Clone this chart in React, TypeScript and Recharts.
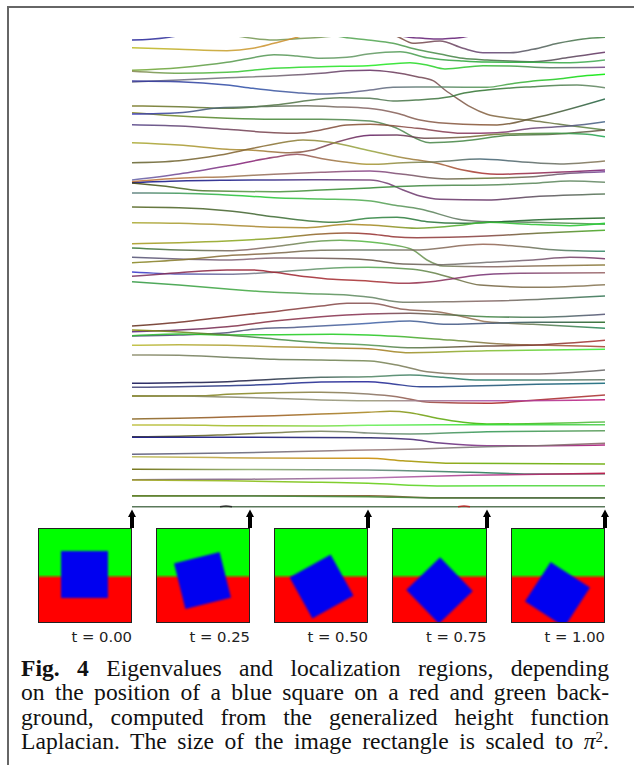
import { LineChart, Line, XAxis, YAxis } from "recharts";

// each curve: [frame, eigenvalue], frame 0..473 spans t = 0..1
const eig01 = [[0,467],[18,467.7],[37,469.7],[55,473]];
const eig02 = [[95,473],[113,469.7],[142,467],[165,468.3],[189,469.7],[210,472]];
const eig03 = [[195,473],[212,469.7],[236,467],[261,463.7],[284,457.7],[308,453],[331,448.7],[355,447],[378,446],[401,445.3],[438,449.7],[473,454.7]];
const eig04 = [[0,459.3],[47,457.7],[95,456.3],[121,458.7],[142,463.7],[165,469.7],[185,476]];
const eig05 = [[255,475],[267,469.7],[281,463.7],[308,466],[331,458.7],[351,454.3],[378,454.3],[401,457.7],[426,463.7],[451,468],[473,469.7]];
const eig06 = [[265,472],[277,469.7],[291,468.7],[308,468],[321,468.7],[331,469.7],[345,473]];
const eig07 = [[0,436.7],[47,439.3],[95,444.7],[121,449.3],[142,452.3],[165,451],[189,448.7],[215,449.7],[236,453],[268,455.3],[295,449.3],[331,446],[355,445],[401,444.7],[438,444.3],[473,447]];
const eig08 = [[0,435.7],[47,433.7],[95,434.7],[142,438.7],[189,440.3],[236,441.3],[278,444.3],[295,442],[313,438],[351,441.3],[378,441],[418,439.3],[473,439.7]];
const eig09 = [[0,425],[47,427],[95,429.3],[142,431],[189,433.7],[215,436.3],[238,436.7],[261,434.7],[285,430.3],[301,426.3],[313,417],[325,408.7],[338,400.3],[355,392.7],[378,388.7],[401,386.3],[426,383],[451,379.7],[473,377]];
const eig10 = [[0,426],[47,425.3],[95,422],[121,418.7],[142,416.3],[165,414.3],[189,413],[215,414.3],[238,417],[261,419.7],[284,420],[310,420],[355,419.7],[378,423],[401,426],[426,428],[451,431],[473,432.7]];
const eig11 = [[0,401],[47,400.3],[95,398.7],[142,402],[189,408],[208,409.3],[238,408.7],[261,406],[284,407],[318,410.3],[328,413],[355,417],[401,420.3],[445,422],[473,419.3]];
const eig12 = [[0,394.3],[47,391],[95,388.7],[142,387.7],[189,387.7],[238,386],[261,380.3],[298,364.3],[331,366],[378,371.7],[425,373],[473,377]];
const eig13 = [[0,393],[47,394.3],[88,399.3],[121,400.3],[175,401.3],[201,400.3],[236,398.7],[265,393.7],[288,387],[331,382.7],[365,382],[401,388.7],[473,408]];
const eig14 = [[0,382.3],[47,381],[95,377.7],[142,374.3],[165,373.7],[189,377],[215,382],[238,382.7],[285,378.7],[331,373.7],[365,374.3],[401,378.7],[438,381],[473,385.3]];
const eig15 = [[0,364.3],[47,362],[95,357.7],[121,356.7],[158,354.3],[181,357],[201,363.7],[238,371.7],[265,372],[295,368.7],[331,369.7],[371,373],[425,373.7],[451,373],[473,370.3]];
const eig16 = [[0,344.3],[47,346.3],[88,352],[121,358.7],[155,365.3],[171,367],[198,364.7],[238,356.3],[271,349.3],[305,343.7],[331,337],[365,332.7],[401,333.7],[438,335.3],[473,337]];
const eig17 = [[0,327],[47,333],[95,341],[142,349.7],[165,352.7],[188,348.7],[215,344.7],[238,342.7],[271,344.3],[305,345.3],[348,348],[388,345.3],[428,343],[473,346]];
const eig18 = [[0,325.3],[47,328.7],[95,330.3],[142,332.7],[189,334.7],[238,336],[271,332.7],[315,328],[355,328.7],[401,330.3],[438,333.7],[473,335.3]];
const eig19 = [[0,324.3],[47,326],[95,326.7],[142,327],[189,327.3],[238,327],[255,323.7],[271,317],[288,311],[308,307.7],[355,307],[401,310.3],[473,313]];
const eig20 = [[0,324],[31,321],[71,316.3],[142,315.3],[189,317],[238,319],[288,321.3],[355,322],[401,323.7],[438,326],[473,324.7]];
const eig21 = [[0,314],[47,313.7],[95,312],[142,309.3],[189,308],[236,306.3],[261,302],[288,298],[331,287],[358,285.3],[401,284.7],[473,282.7]];
const eig22 = [[0,300],[47,299.3],[95,296.3],[142,290.3],[175,286.3],[201,284.7],[236,288.7],[265,289.7],[295,285.3],[331,283.7],[358,284.7],[401,287],[473,289]];
const eig23 = [[0,284.3],[47,283.7],[95,282],[142,279.7],[175,279.3],[215,282.7],[238,282],[285,278.7],[331,282],[355,284.7],[391,283],[438,281.3],[473,283.7]];
const eig24 = [[0,263.3],[47,264.3],[95,266],[142,268.7],[189,273],[215,274],[238,273],[261,270.3],[285,269.3],[355,271],[405,273.7],[473,276.7]];
const eig25 = [[0,259],[47,257],[95,256.3],[142,260.3],[189,266],[208,266.7],[238,265],[261,262],[281,257],[295,247],[311,241],[355,240.3],[401,241],[473,242]];
const eig26 = [[0,249.7],[47,248],[95,247],[142,249],[189,248.7],[238,247],[271,243],[311,242.3],[355,244.7],[401,247],[438,249.7],[473,248.3]];
const eig27 = [[0,244.3],[47,247],[95,251.3],[142,253.7],[189,256.7],[236,257],[281,257],[351,262.7],[391,260.3],[425,257],[473,255.7]];
const eig28 = [[0,235],[47,233],[95,232.7],[142,234.7],[189,238.3],[236,239.7],[281,237.7],[301,234.3],[321,228.7],[348,222],[405,219.7],[473,222.3]];
const eig29 = [[0,230.7],[47,234.3],[95,237],[121,237],[142,234.7],[175,230.3],[201,227.7],[236,226],[271,223.7],[305,226],[348,232],[388,233.7],[473,234.3]];
const eig30 = [[0,225.3],[47,222],[95,218],[142,214.7],[189,213],[215,212],[238,209.7],[271,204.7],[321,205.3],[371,206.3],[473,211]];
const eig31 = [[0,181],[47,184.7],[95,190.3],[142,195.3],[189,201],[215,203.7],[238,203.7],[271,197.7],[305,195.3],[331,190.3],[355,185.3],[401,182.7],[473,178.7]];
const eig32 = [[0,175.3],[47,177],[95,180.3],[142,186],[189,190.3],[236,193],[278,193.7],[305,192.7],[355,190.3],[405,189.7],[473,192.7]];
const eig33 = [[0,171],[47,172],[95,174.3],[121,177.7],[165,179.7],[238,183.7],[278,186],[315,182.7],[355,183.7],[405,184.7],[473,184.7]];
const eig34 = [[0,171.3],[47,173],[95,172],[200,172.7],[236,172],[318,167],[371,163],[405,162],[473,160.3]];
const eig35 = [[0,177],[47,175],[95,172],[142,168],[189,164.3],[236,162],[281,159.3],[355,161],[405,162],[473,166.7]];
const eig36 = [[0,161.7],[47,162.3],[95,161.7],[142,160.3],[189,159.3],[236,158.3],[278,154.3],[355,156.3],[473,157.7]];
const eig37 = [[0,152],[47,151.7],[95,149.7],[142,147.7],[189,147],[238,146],[265,142],[295,135.3],[331,133],[401,133],[473,137]];
const eig38 = [[0,123.7],[47,124.3],[95,125.3],[142,127.7],[189,129.7],[236,130.3],[278,132],[311,129.7],[348,127],[405,127],[473,127.3]];
const eig39 = [[0,119.7],[47,120.3],[95,121.3],[142,122.7],[189,125],[236,125.3],[261,123],[288,120.3],[338,121],[405,122.7],[473,123.7]];
const eig40 = [[0,111],[71,111.3],[95,112.7],[142,114.3],[189,114.7],[236,113],[265,110.3],[298,104.7],[355,103.7],[405,107],[473,112]];
const eig41 = [[0,111],[47,111],[95,110],[142,108.7],[189,107],[236,106.3],[305,106.3],[371,106.3],[473,107.3]];
const eig42 = [[0,88],[47,88.7],[95,90],[142,91.3],[189,93],[236,94.7],[258,95.7],[278,94.3],[305,88.7],[331,84.7],[355,83],[473,85]];
const eig43 = [[0,82],[47,82],[95,81.3],[189,81],[236,81.7],[305,82.3],[473,82.3]];
const eig44 = [[0,70.3],[47,70.7],[95,72.3],[142,74.3],[189,75.7],[215,75.3],[236,74],[278,73],[355,75.3],[473,76.3]];
const eig45 = [[0,69.7],[118,69.7],[238,69.3],[278,67.7],[311,63.7],[355,61.3],[405,61.3],[473,62]];
const eig46 = [[0,52.7],[95,54],[189,56],[236,57],[288,58],[355,60.3],[405,61.3],[473,63.7]];
const eig47 = [[0,50.3],[95,49.3],[189,48.7],[236,48.7],[271,46.3],[321,43.7],[473,43]];
const eig48 = [[0,37.7],[236,37],[338,34.7],[405,33],[473,33]];
const eig49 = [[0,27.3],[95,27.7],[236,29],[338,31.7],[473,33.7]];
const eig50 = [[0,27],[95,26.3],[189,24.7],[236,23.7],[305,21],[473,21.3]];
const eig51 = [[0,11.3],[236,11.3],[305,9.3],[473,9.3]];
const eig52 = [[0,11],[121,11],[236,10.3],[305,9],[473,9]];
const eig53 = [[0,0.3],[473,0.3]];
const eig54 = [[88,0.3],[94,0.9],[100,0.3]];
const eig55 = [[326,0.3],[332,0.9],[338,0.3]];

const eigenCurves = [
  eig01, eig02, eig03, eig04, eig05, eig06, eig07, eig08, eig09, eig10, eig11,
  eig12, eig13, eig14, eig15, eig16, eig17, eig18, eig19, eig20, eig21, eig22,
  eig23, eig24, eig25, eig26, eig27, eig28, eig29, eig30, eig31, eig32, eig33,
  eig34, eig35, eig36, eig37, eig38, eig39, eig40, eig41, eig42, eig43, eig44,
  eig45, eig46, eig47, eig48, eig49, eig50, eig51, eig52, eig53, eig54, eig55,
];

// colour along each curve, evenly spaced from t = 0 to t = 1
const curveColors = [
  ["#229", "#66a", "#66a", "#66a", "#66a"],
  ["#795", "#795", "#795", "#685", "#685"],
  ["#584", "#584", "#5a5", "#474", "#636"],
  ["#bb2", "#c93", "#c72", "#852", "#852"],
  ["#853", "#853", "#853", "#647", "#484"],
  ["#627", "#627", "#627", "#627", "#627"],
  ["#7a3", "#595", "#696", "#2a3", "#4a5"],
  ["#885", "#3c3", "#2e2", "#3b3", "#748"],
  ["#668", "#777", "#636", "#864", "#584"],
  ["#339", "#35a", "#668", "#595", "#0e0"],
  ["#772", "#574", "#575", "#373", "#686"],
  ["#882", "#483", "#585", "#484", "#654"],
  ["#33b", "#575", "#866", "#853", "#264"],
  ["#548", "#745", "#853", "#836", "#468"],
  ["#aa3", "#a83", "#626", "#773", "#2a5"],
  ["#663", "#863", "#9a4", "#a33", "#727"],
  ["#66a", "#827", "#a93", "#467", "#875"],
  ["#c73", "#975", "#848", "#673", "#749"],
  ["#118", "#228", "#747", "#636", "#575"],
  ["#441", "#594", "#383", "#585", "#686"],
  ["#577", "#2c3", "#5a5", "#666", "#4a4"],
  ["#562", "#463", "#384", "#263", "#262"],
  ["#aa3", "#a83", "#a82", "#3b3", "#2c3"],
  ["#a92", "#8a2", "#933", "#844", "#4a2"],
  ["#373", "#866", "#5b4", "#866", "#873"],
  ["#557", "#867", "#654", "#777", "#736"],
  ["#882", "#864", "#676", "#965", "#386"],
  ["#33c", "#778", "#5a5", "#764", "#875"],
  ["#736", "#923", "#a33", "#737", "#966"],
  ["#394", "#4a4", "#686", "#866", "#375"],
  ["#632", "#833", "#855", "#975", "#285"],
  ["#527", "#834", "#835", "#484", "#557"],
  ["#447", "#557", "#46a", "#457", "#262"],
  ["#3b3", "#2c2", "#2c2", "#874", "#a43"],
  ["#880", "#484", "#595", "#643", "#a33"],
  ["#bb3", "#a93", "#a72", "#8b3", "#3e3"],
  ["#886", "#675", "#785", "#866", "#666"],
  ["#115", "#224", "#586", "#276", "#676"],
  ["#447", "#238", "#229", "#257", "#167"],
  ["#772", "#882", "#876", "#a22", "#a33"],
  ["#883", "#887", "#997", "#a5a", "#b17"],
  ["#862", "#952", "#a82", "#3b0", "#5b4"],
  ["#bb3", "#9b2", "#6e5", "#3d3", "#4c4"],
  ["#441", "#773", "#787", "#395", "#595"],
  ["#118", "#117", "#226", "#838", "#a17"],
  ["#557", "#667", "#977", "#777", "#866"],
  ["#bb5", "#b93", "#c80", "#6a0", "#6a0"],
  ["#660", "#8a6", "#687", "#275", "#777"],
  ["#648", "#868", "#a6a", "#a38", "#b14"],
  ["#aa2", "#8b1", "#6c1", "#4d3", "#5c4"],
  ["#760", "#863", "#752", "#753", "#653"],
  ["#583", "#484", "#483", "#474", "#474"],
  ["#464", "#464", "#464", "#464", "#464"],
  ["#222", "#222", "#222", "#222", "#222"],
  ["#b22", "#b22", "#b22", "#b22", "#b22"],
];

const tickLabels = ["t = 0.00", "t = 0.25", "t = 0.50", "t = 0.75", "t = 1.00"];
const tickFrames = [0, 118, 236, 354.5, 473];
// blue square in each thumbnail: rotation in degrees, centre inside the 94px box
const squareAngles = [0, -14, -29, -44, -57];
const squareCentres = [[47, 47], [47.5, 53], [48, 58.5], [47.7, 62.5], [47, 67]];

const captionLines = [
  <><b>Fig. 4</b> Eigenvalues and localization regions, depending</>,
  <>on the position of a blue square on a red and green back-</>,
  <>ground, computed from the generalized height function</>,
  <>Laplacian. The size of the image rectangle is scaled to <i>π</i><sup style={{ fontSize: 15, lineHeight: 0, verticalAlign: 7 }}>2</sup>.</>,
];

function Thumbnail({ index }: { index: number }) {
  const left = 132 + tickFrames[index] - 94.5;
  const [cx, cy] = squareCentres[index];
  return (
    <>
      <div
        style={{
          position: "absolute",
          left,
          top: 528,
          width: 94.5,
          height: 94.5,
          boxSizing: "border-box",
          border: "1.3px solid #222",
          overflow: "hidden",
          background: "linear-gradient(#00ff00 0 49%, #ff0000 53%)",
        }}
      >
        <div
          style={{
            position: "absolute",
            left: cx - 23.5 - 1.3,
            top: cy - 23.5 - 1.3,
            width: 47,
            height: 47,
            background: "#0000f0",
            filter: "blur(0.8px)",
            transform: `rotate(${squareAngles[index]}deg)`,
          }}
        />
      </div>
      <div
        style={{
          position: "absolute",
          left: left - 6,
          top: 628,
          width: 100.5,
          textAlign: "right",
          font: "14.8px/18px 'DejaVu Sans'",
          color: "#222",
        }}
      >
        {tickLabels[index]}
      </div>
      <svg style={{ position: "absolute", left: left + 94.5 - 6, top: 508, width: 12, height: 21 }}>
        <path d="M6 1.5 L10 9 L8 9 L8 20 L4 20 L4 9 L2 9 Z" fill="#000" />
      </svg>
    </>
  );
}

export default function App() {
  return (
    <div style={{ position: "absolute", left: 0, top: 0, width: 634, height: 765, overflow: "hidden", background: "#fff" }}>
      <div style={{ position: "absolute", left: 7, top: 6, width: 627, height: 759, borderLeft: "2px solid #666", borderTop: "2px solid #666" }} />

      <div style={{ position: "absolute", left: 0, top: 0 }}>
        <LineChart width={634} height={765} margin={{ top: 37, right: 29, bottom: 255, left: 132 }}>
          <defs>
            {curveColors.map((stops, i) => (
              <linearGradient key={i} id={`curve${i}`} gradientUnits="userSpaceOnUse" x1={132} y1={0} x2={605} y2={0}>
                {stops.map((c, j) => (
                  <stop key={j} offset={j / (stops.length - 1)} stopColor={c} />
                ))}
              </linearGradient>
            ))}
          </defs>
          <XAxis dataKey="frame" type="number" domain={[0, 473]} allowDataOverflow hide />
          <YAxis type="number" domain={[-3, 470]} allowDataOverflow hide />
          {eigenCurves.map((curve, i) => (
            <Line
              key={i}
              data={curve.map(([frame, value]) => ({ frame, value }))}
              dataKey="value"
              type="monotone"
              stroke={`url(#curve${i})`}
              strokeWidth={1.5}
              strokeOpacity={0.88}
              dot={false}
              activeDot={false}
              legendType="none"
              isAnimationActive={false}
            />
          ))}
        </LineChart>
      </div>

      {tickLabels.map((_, i) => (
        <Thumbnail key={i} index={i} />
      ))}

      {captionLines.map((line, i) => (
        <div
          key={i}
          style={{
            position: "absolute",
            left: 21,
            top: 656 + i * 24.3,
            width: 588,
            font: "23.6px/24px 'Liberation Serif'",
            color: "#111",
            textAlign: "justify",
            textAlignLast: "justify",
            whiteSpace: "nowrap",
          }}
        >
          {line}
        </div>
      ))}
    </div>
  );
}
